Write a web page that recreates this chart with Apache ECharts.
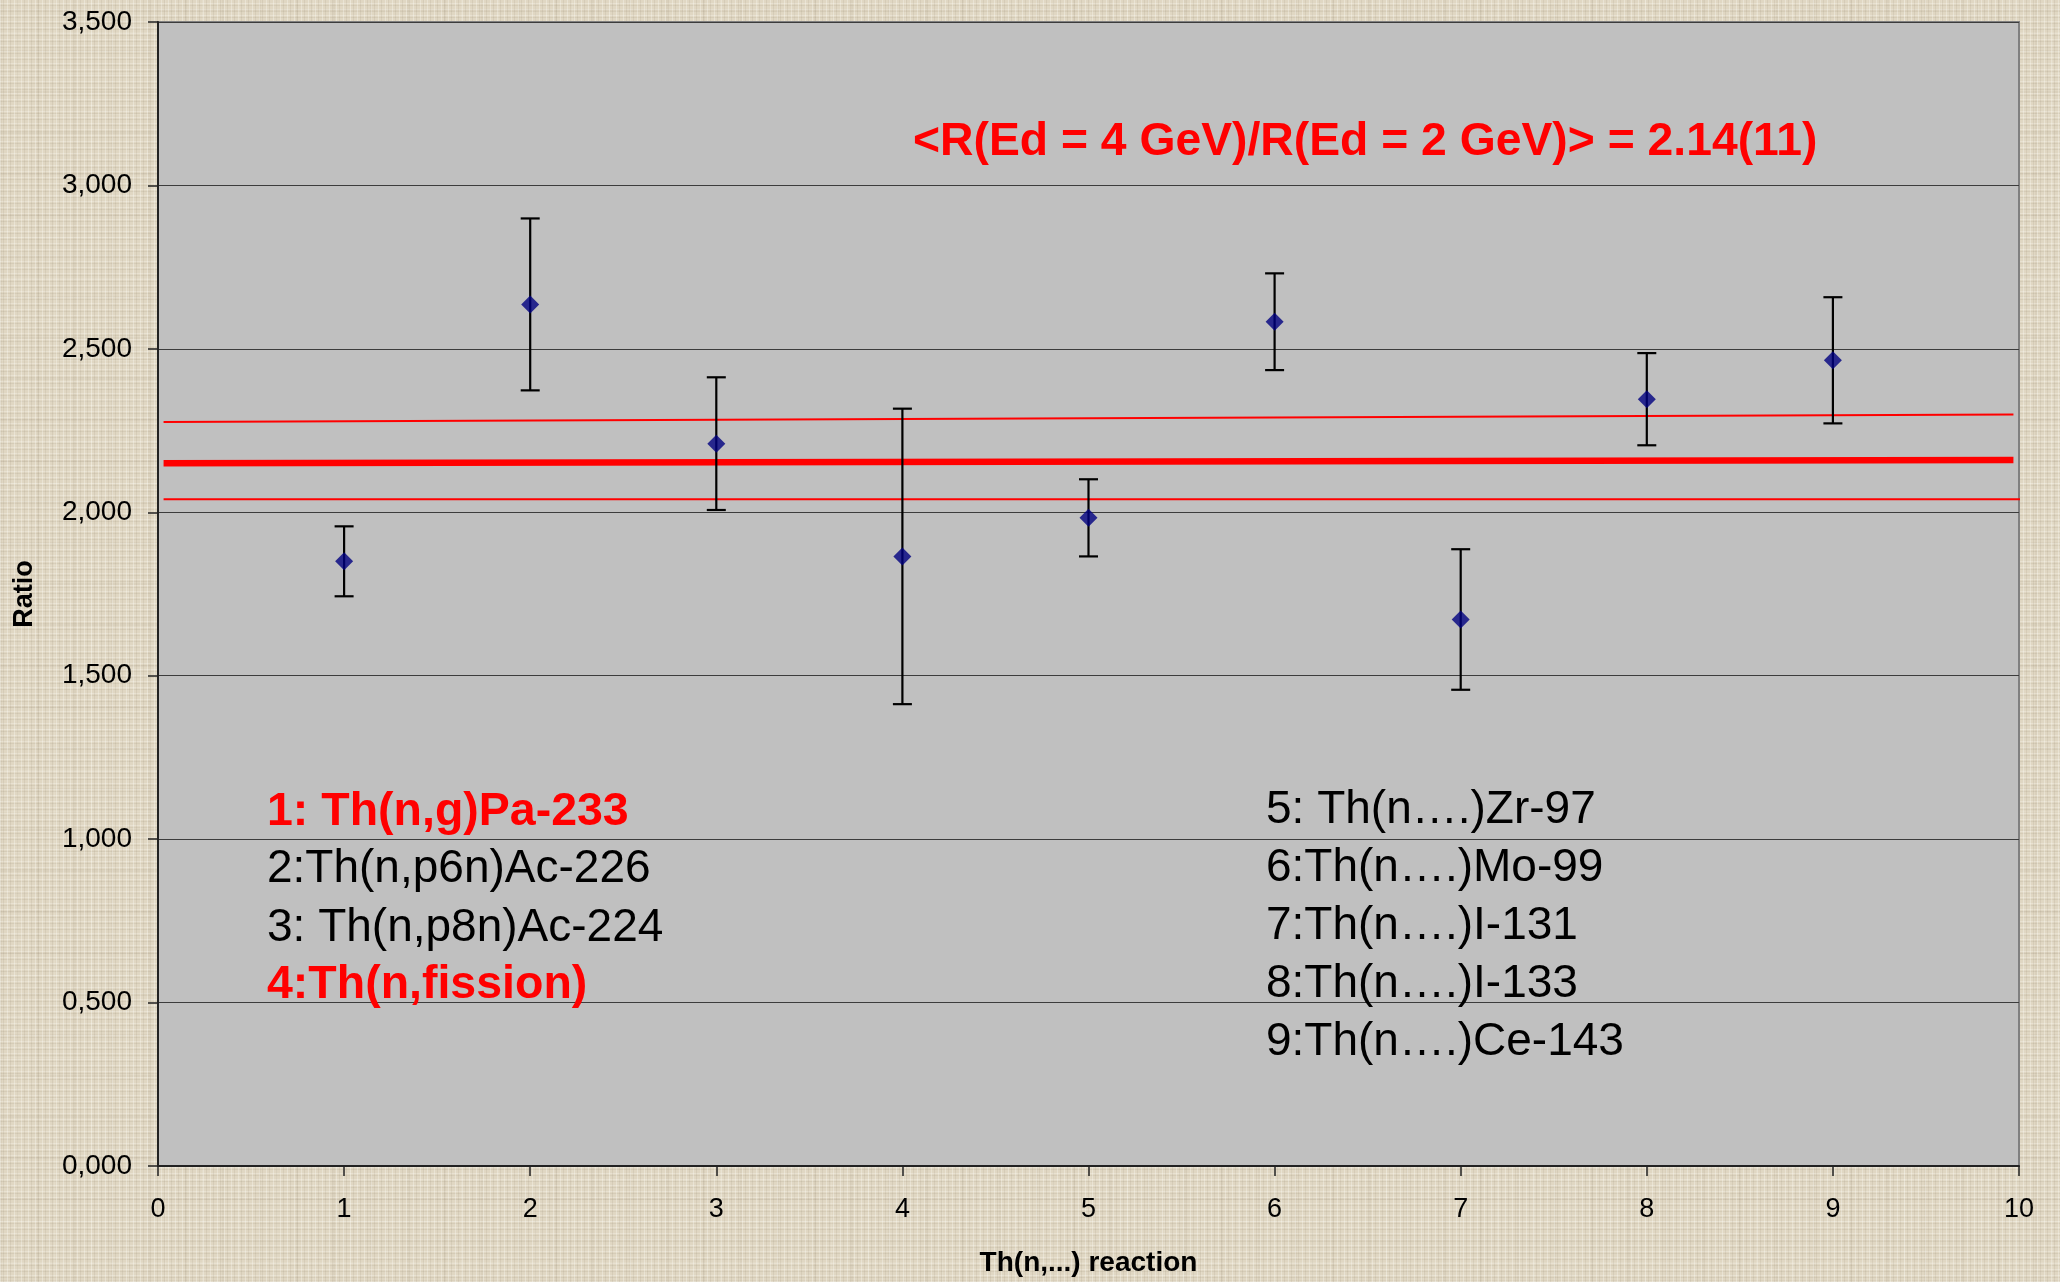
<!DOCTYPE html>
<html>
<head>
<meta charset="utf-8">
<title>Th(n,...) reaction ratios</title>
<script src="https://cdn.jsdelivr.net/npm/echarts@6/dist/echarts.min.js"></script>
<style>
  html, body { margin: 0; padding: 0; }
  body {
    width: 2060px; height: 1282px; overflow: hidden;
    background-color: #e0d7c3;
    background-image:
      repeating-linear-gradient(90deg, rgba(255,255,250,0.30) 0 1px, transparent 1px 3px, rgba(120,105,80,0.10) 3px 4px, transparent 4px 7px),
      repeating-linear-gradient(0deg, rgba(255,255,250,0.26) 0 1px, transparent 1px 4px, rgba(120,105,80,0.10) 4px 5px, transparent 5px 6px),
      repeating-linear-gradient(90deg, rgba(110,95,70,0.06) 0 2px, transparent 2px 17px, rgba(255,255,245,0.12) 17px 18px, transparent 18px 37px),
      repeating-linear-gradient(0deg, rgba(110,95,70,0.05) 0 2px, transparent 2px 19px, rgba(255,255,245,0.10) 19px 20px, transparent 20px 41px);
  }
  #chart { width: 2060px; height: 1282px; }
</style>
</head>
<body>
<div id="chart"></div>
<script>
// Reaction index (x) and measured ratio R(4 GeV)/R(2 GeV) with its uncertainty
const reactionIdx = [1, 2, 3, 4, 5, 6, 7, 8, 9];
const ratio       = [1.850, 2.636, 2.210, 1.865, 1.983, 2.583, 1.672, 2.346, 2.465];
const ratioErr    = [0.107, 0.263, 0.203, 0.452, 0.118, 0.148, 0.215, 0.141, 0.193];

// Weighted mean and its ±1σ band, drawn as straight segments
const meanLineX  = [0.03, 9.97];
const meanLineY  = [2.150, 2.160];
const upperBandX = [0.03, 9.97];
const upperBandY = [2.276, 2.299];
const lowerBandX = [0.03, 10.04];
const lowerBandY = [2.040, 2.040];

// Axis ticks
const xTicks = { min: 0, max: 10, step: 1 };
const yTicks = { min: 0, max: 3.5, step: 0.5 };

// Reaction key
const leftNotes     = ['1: Th(n,g)Pa-233', '2:Th(n,p6n)Ac-226', '3: Th(n,p8n)Ac-224', '4:Th(n,fission)'];
const leftNotesBold = [true, false, false, true];
const rightNotes    = ['5: Th(n….)Zr-97', '6:Th(n….)Mo-99', '7:Th(n….)I-131', '8:Th(n….)I-133', '9:Th(n….)Ce-143'];
const meanText      = '<R(Ed = 4 GeV)/R(Ed = 2 GeV)> = 2.14(11)';

const FONT = '"Liberation Sans", Arial, sans-serif';

const pts = reactionIdx.map((x, i) => [x, ratio[i]]);
const bars = reactionIdx.map((x, i) => [x, ratio[i] - ratioErr[i], ratio[i] + ratioErr[i]]);
const seg = (xs, ys) => xs.map((x, i) => [x, ys[i]]);

const noteGraphics = [];
const leftY = [812, 869, 928, 985];
leftNotes.forEach((t, i) => {
  const bold = leftNotesBold[i];
  noteGraphics.push({
    type: 'text', z: 100,
    style: {
      text: t, x: 267, y: leftY[i],
      fill: bold ? '#ff0000' : '#000000',
      font: (bold ? 'bold 46.5px ' : '46px ') + FONT,
      textAlign: 'left', align: 'left', textVerticalAlign: 'middle', verticalAlign: 'middle'
    }
  });
});
rightNotes.forEach((t, i) => {
  noteGraphics.push({
    type: 'text', z: 100,
    style: {
      text: t, x: 1266, y: 810 + i * 58,
      fill: '#000000',
      font: '46px ' + FONT,
      textAlign: 'left', align: 'left', textVerticalAlign: 'middle', verticalAlign: 'middle'
    }
  });
});
noteGraphics.push({
  type: 'text', z: 100,
  style: {
    text: meanText, x: 913, y: 142,
    fill: '#ff0000',
    font: 'bold 46.3px ' + FONT,
    textAlign: 'left', align: 'left', textVerticalAlign: 'middle', verticalAlign: 'middle'
  }
});

const chart = echarts.init(document.getElementById('chart'), null, { renderer: 'canvas' });

chart.setOption({
  backgroundColor: 'transparent',
  animation: false,
  grid: {
    left: 158, right: 41, top: 22, bottom: 115,
    show: true, backgroundColor: '#c0c0c0', borderColor: '#808080', borderWidth: 2
  },
  xAxis: {
    type: 'value', min: xTicks.min, max: xTicks.max, interval: xTicks.step,
    name: 'Th(n,...) reaction', nameLocation: 'middle', nameGap: 83,
    nameTextStyle: { fontFamily: FONT, fontWeight: 'bold', fontSize: 28, color: '#000' },
    axisLine: { show: true, onZero: false, lineStyle: { color: '#222', width: 2 } },
    axisTick: { show: true, inside: false, length: 10, lineStyle: { color: '#222', width: 1.5 } },
    axisLabel: { fontFamily: FONT, fontSize: 27, color: '#000', margin: 30 },
    splitLine: { show: false }
  },
  yAxis: {
    type: 'value', min: yTicks.min, max: yTicks.max, interval: yTicks.step,
    name: 'Ratio', nameLocation: 'middle', nameGap: 120,
    nameTextStyle: { fontFamily: FONT, fontWeight: 'bold', fontSize: 27, color: '#000' },
    axisLine: { show: true, lineStyle: { color: '#222', width: 2 } },
    axisTick: { show: true, inside: false, length: 10, lineStyle: { color: '#222', width: 1.5 } },
    axisLabel: {
      fontFamily: FONT, fontSize: 28, color: '#000', margin: 26,
      formatter: v => v.toFixed(3).replace('.', ',')
    },
    splitLine: { show: true, lineStyle: { color: '#3c3c3c', width: 1.2 } }
  },
  graphic: noteGraphics,
  series: [
    {
      name: 'upper', type: 'line', data: seg(upperBandX, upperBandY),
      symbol: 'none', clip: false, z: 2,
      lineStyle: { color: '#ff0000', width: 2 }
    },
    {
      name: 'mean', type: 'line', data: seg(meanLineX, meanLineY),
      symbol: 'none', clip: false, z: 2,
      lineStyle: { color: '#ff0000', width: 6.5, cap: 'butt' }
    },
    {
      name: 'lower', type: 'line', data: seg(lowerBandX, lowerBandY),
      symbol: 'none', clip: false, z: 2,
      lineStyle: { color: '#ff0000', width: 2 }
    },
    {
      name: 'error', type: 'custom', z: 3,
      data: bars,
      renderItem: (params, api) => {
        const x = api.value(0);
        const lo = api.coord([x, api.value(1)]);
        const hi = api.coord([x, api.value(2)]);
        const hw = 9.5;
        const st = { stroke: '#000', lineWidth: 2.2 };
        return {
          type: 'group',
          children: [
            { type: 'line', shape: { x1: lo[0], y1: lo[1], x2: hi[0], y2: hi[1] }, style: st },
            { type: 'line', shape: { x1: hi[0] - hw, y1: hi[1], x2: hi[0] + hw, y2: hi[1] }, style: st },
            { type: 'line', shape: { x1: lo[0] - hw, y1: lo[1], x2: lo[0] + hw, y2: lo[1] }, style: st }
          ]
        };
      }
    },
    {
      name: 'ratio', type: 'scatter', z: 4,
      data: pts, symbol: 'diamond', symbolSize: 18,
      itemStyle: { color: '#000080' }
    }
  ]
});
</script>
</body>
</html>
